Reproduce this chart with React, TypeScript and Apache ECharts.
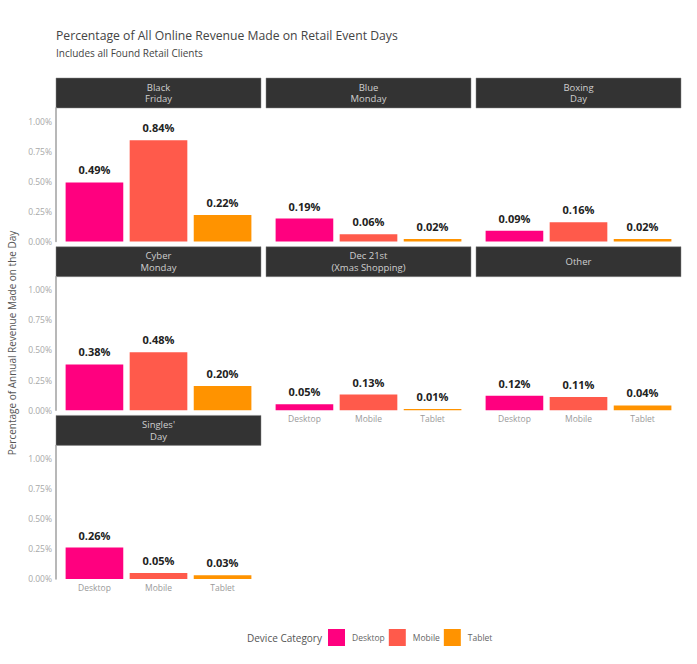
import React, { useEffect, useRef } from "react";
import * as echarts from "echarts";

const devices = ["Desktop", "Mobile", "Tablet"];
const deviceColors = ["#FF007F", "#FF5A4B", "#FF9300"];
const panelNames = [
  "Black\nFriday",
  "Blue\nMonday",
  "Boxing\nDay",
  "Cyber\nMonday",
  "Dec 21st\n(Xmas Shopping)",
  "Other",
  "Singles'\nDay",
];
const blackFriday = [0.49, 0.84, 0.22];
const blueMonday = [0.19, 0.06, 0.02];
const boxingDay = [0.09, 0.16, 0.02];
const cyberMonday = [0.38, 0.48, 0.2];
const dec21 = [0.05, 0.13, 0.01];
const other = [0.12, 0.11, 0.04];
const singlesDay = [0.26, 0.05, 0.03];
const panelValues = [blackFriday, blueMonday, boxingDay, cyberMonday, dec21, other, singlesDay];
const yTicks = [0, 0.25, 0.5, 0.75, 1.0];

const FONT = "Open Sans";
const colLeft = [56, 266, 476];
const colWidth = 205;
const stripH = 30;
const plotH = 133.5;
const rowTop = (r: number) => 78 + r * 168.7;
const yMax = 1.108;

export default function App() {
  const ref = useRef<HTMLDivElement>(null);
  useEffect(() => {
    document.body.style.margin = "0";
    const chart = echarts.init(ref.current!, null, { renderer: "svg" });
    const grids: any[] = [];
    const xAxes: any[] = [];
    const yAxes: any[] = [];
    const series: any[] = [];
    const graphic: any[] = [];
    panelValues.forEach((vals, p) => {
      const r = Math.floor(p / 3);
      const c = p % 3;
      const top = rowTop(r);
      const unit = colWidth / 3.2;
      grids.push({
        left: colLeft[c] + unit * 0.1,
        top: top + stripH,
        width: unit * 3,
        height: plotH,
      });
      const isBottom = p >= 4;
      xAxes.push({
        type: "category",
        gridIndex: p,
        data: devices,
        axisLine: { show: false },
        axisTick: { show: false },
        axisLabel: {
          show: isBottom,
          fontFamily: FONT,
          fontSize: 8.5,
          color: "#9a9a9a",
          margin: 4,
        },
      });
      yAxes.push({
        type: "value",
        gridIndex: p,
        min: 0,
        max: yMax,
        interval: 0.25,
        offset: unit * 0.1,
        splitLine: { show: false },
        axisTick: { show: false },
        axisLine: { show: c === 0, lineStyle: { color: "#a0a0a0", width: 1.5 } },
        axisLabel: {
          show: c === 0,
          fontFamily: FONT,
          fontSize: 8.5,
          color: "#a8a8a8",
          margin: 4,
          formatter: (v: number) => (yTicks.some((t) => Math.abs(t - v) < 1e-6) ? v.toFixed(2) + "%" : ""),
        },
      });
      devices.forEach((d, di) => {
        series.push({
          type: "bar",
          name: d,
          xAxisIndex: p,
          yAxisIndex: p,
          barWidth: "90%",
          barGap: "-100%",
          itemStyle: { color: deviceColors[di] },
          data: devices.map((_, i) => (i === di ? vals[di] : "-")),
          label: {
            show: true,
            position: "top",
            distance: 7,
            fontFamily: FONT,
            fontWeight: "bold",
            fontSize: 11,
            color: "#222",
            formatter: (pr: any) => Number(pr.value).toFixed(2) + "%",
          },
        });
      });
      graphic.push({
        type: "rect",
        shape: { x: colLeft[c], y: top, width: colWidth, height: stripH },
        style: { fill: "#333333", stroke: "#8a8a8a", lineWidth: 0.5 },
      });
      graphic.push({
        type: "text",
        x: colLeft[c] + colWidth / 2,
        y: top + stripH / 2,
        style: {
          text: panelNames[p],
          fontFamily: FONT,
          fontSize: 9.5,
          lineHeight: 11.5,
          fill: "#cfcfcf",
          align: "center",
          verticalAlign: "middle",
        },
      });
    });
    graphic.push(
      {
        type: "text",
        x: 56,
        y: 35,
        style: {
          text: "Percentage of All Online Revenue Made on Retail Event Days",
          fontFamily: FONT,
          fontSize: 12.2,
          fill: "#444",
          verticalAlign: "middle",
        },
      },
      {
        type: "text",
        x: 56,
        y: 53,
        style: {
          text: "Includes all Found Retail Clients",
          fontFamily: FONT,
          fontSize: 10,
          fill: "#444",
          verticalAlign: "middle",
        },
      },
      {
        type: "text",
        x: 12,
        y: 343,
        rotation: Math.PI / 2,
        style: {
          text: "Percentage of Annual Revenue Made on the Day",
          fontFamily: FONT,
          fontSize: 10,
          fill: "#555",
          align: "center",
          verticalAlign: "middle",
        },
      },
      {
        type: "text",
        x: 247,
        y: 637.5,
        style: {
          text: "Device Category",
          fontFamily: FONT,
          fontSize: 10,
          fill: "#555",
          verticalAlign: "middle",
        },
      }
    );
    chart.setOption({
      animation: false,
      grid: grids,
      xAxis: xAxes,
      yAxis: yAxes,
      series,
      graphic,
      legend: {
        data: devices,
        left: 328,
        top: 629,
        padding: 0,
        itemWidth: 17,
        itemHeight: 17,
        itemGap: 4,
        icon: "rect",
        textStyle: { fontFamily: FONT, fontSize: 8.5, color: "#666", padding: [0, 0, 0, 2] },
      },
    });
    return () => chart.dispose();
  }, []);
  return <div ref={ref} style={{ width: 697, height: 664 }} />;
}
